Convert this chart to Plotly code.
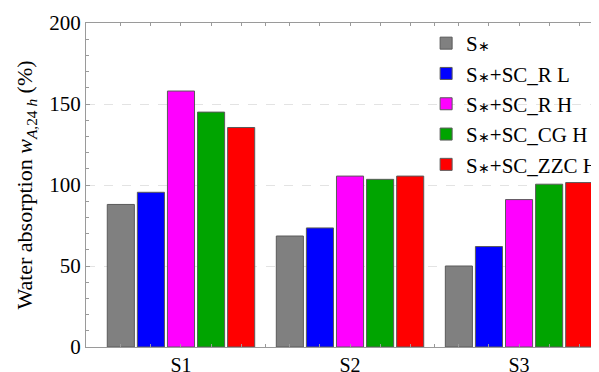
import plotly.graph_objects as go

categories = ["S1", "S2", "S3"]
AST = "<span style='font-size:14px'>∗</span>"
series_names = ["S" + AST, "S" + AST + "+SC_R L", "S" + AST + "+SC_R H",
                "S" + AST + "+SC_CG H", "S" + AST + "+SC_ZZC H"]
v_s = [88, 68.5, 50]
v_rl = [95.5, 73.5, 62]
v_rh = [158, 105.5, 91]
v_cg = [145, 103.5, 100.5]
v_zzc = [135.5, 105.5, 101.5]
series_values = [v_s, v_rl, v_rh, v_cg, v_zzc]
colors = ["#808080", "#0000ff", "#ff00ff", "#00a400", "#ff0000"]
y_ticks = [0, 50, 100, 150, 200]

FONT = "Liberation Serif"
bargap = 0.11
n = len(series_names)
xr = [-0.562, 2.473]

fig = go.Figure()
for i, (name, vals, c) in enumerate(zip(series_names, series_values, colors)):
    fig.add_trace(go.Bar(
        x=categories, y=vals, name=name, marker_color=c,
        marker_line=dict(color="#5a5a5a", width=1),
        legendgroup=str(i),
    ))

# tick positions at bar centres and group boundaries
slot = (1 - bargap) / n
tick_pos = []
for k in range(len(categories)):
    for i in range(n):
        tick_pos.append(k + (i - (n - 1) / 2) * slot)
    if k < len(categories) - 1:
        tick_pos.append(k + 0.5)

fig.update_layout(
    width=599, height=372,
    margin=dict(l=78, r=8, t=15, b=33, autoexpand=False),
    paper_bgcolor="white", plot_bgcolor="white",
    font=dict(family=FONT, size=20, color="black"),
    bargap=bargap, bargroupgap=0.1, barmode="group",
    showlegend=True,
    legend=dict(
        x=0.663, y=1.0, xanchor="left", yanchor="top",
        font=dict(family=FONT, size=21, color="black"),
        bgcolor="rgba(0,0,0,0)", tracegroupgap=0,
        traceorder="grouped",
    ),
    xaxis=dict(
        type="category", range=xr, showline=True, linecolor="#9a9a9a", linewidth=1,
        mirror=True, ticks="", showgrid=False, automargin=False,
        tickfont=dict(family=FONT, size=20, color="black"),
    ),
    xaxis2=dict(
        overlaying="x", range=xr, showline=False, showgrid=False, zeroline=False,
        tickvals=tick_pos, ticks="inside", ticklen=3, tickcolor="#9a9a9a",
        showticklabels=False, mirror="ticks", automargin=False,
    ),
    yaxis=dict(
        range=[0, 200], tickvals=y_ticks, showline=True, linecolor="#9a9a9a", linewidth=1,
        mirror=True, ticks="inside", ticklen=4, tickcolor="#9a9a9a", automargin=False,
        showgrid=True, gridcolor="#e3e3e3", griddash="dash", zeroline=False,
        minor=dict(dtick=10, ticks="inside", ticklen=3, tickcolor="#9a9a9a", showgrid=False),
        tickfont=dict(family=FONT, size=21, color="black"),
        title=dict(text="Water absorption <i>w</i><sub><i>A</i>,24 <i>h</i></sub> (%)",
                   font=dict(family=FONT, size=22, color="black"), standoff=10),
    ),
)
fig.add_trace(go.Scatter(x=[None], y=[None], xaxis="x2", showlegend=False, hoverinfo="skip"))
fig.write_html("out.html")
